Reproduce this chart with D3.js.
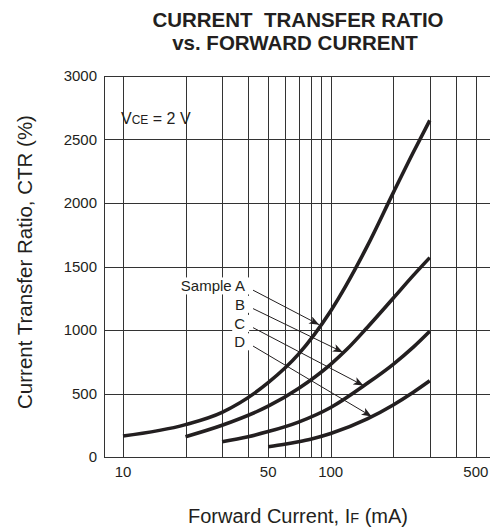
<!DOCTYPE html>
<html>
<head>
<meta charset="utf-8">
<script src="https://cdn.jsdelivr.net/npm/d3@7"></script>
<style>
  body { margin: 0; background: #fff; }
  text { font-family: "Liberation Sans", Arial, sans-serif; fill: #231f20; }
</style>
</head>
<body>
<div id="chart"></div>
<script>
// CTR (%) vs forward current IF (mA), four samples
const currentA = [10, 20, 30, 50, 70, 100, 150, 200, 250, 300];
const ctrA     = [165, 255, 352, 585, 810, 1150, 1660, 2080, 2400, 2650];
const currentB = [20, 30, 50, 70, 100, 120, 150, 200, 250, 300];
const ctrB     = [160, 250, 400, 540, 730, 850, 1020, 1250, 1430, 1570];
const currentC = [30, 40, 50, 70, 100, 150, 200, 250, 300];
const ctrC     = [120, 160, 200, 275, 390, 580, 730, 865, 990];
const currentD = [50, 60, 70, 80, 100, 150, 200, 250, 300];
const ctrD     = [80, 100, 120, 140, 185, 300, 410, 510, 600];

const yTicks = [0, 500, 1000, 1500, 2000, 2500, 3000];
const xGrid = [10, 20, 30, 40, 50, 60, 70, 80, 90, 100, 200, 300, 400, 500];
const xTickLabels = [10, 50, 100, 500];

// label text, label height (CTR), current where arrow hits the curve
const noteLabels = ['Sample A', 'B', 'C', 'D'];
const noteCtr = [1345, 1200, 1050, 905];
const noteTip = [90, 117, 147, 161];

const width = 490, height = 529;
const margin = {top: 76, right: 0, bottom: 72, left: 104};

const series = [
  {cur: currentA, ctr: ctrA},
  {cur: currentB, ctr: ctrB},
  {cur: currentC, ctr: ctrC},
  {cur: currentD, ctr: ctrD}
];

const svg = d3.select('#chart').append('svg')
  .attr('width', width)
  .attr('height', height);

svg.append('rect').attr('width', width).attr('height', height).attr('fill', '#fff');

const x = d3.scaleLog()
  .domain([8.1, 585])
  .range([margin.left, width - margin.right]);

const y = d3.scaleLinear()
  .domain([0, 3000])
  .range([height - margin.bottom, margin.top]);

const defs = svg.append('defs');
defs.append('marker')
  .attr('id', 'arrow')
  .attr('viewBox', '0 0 10 8')
  .attr('refX', 10)
  .attr('refY', 4)
  .attr('markerWidth', 11)
  .attr('markerHeight', 8)
  .attr('markerUnits', 'userSpaceOnUse')
  .attr('orient', 'auto')
  .append('path')
    .attr('d', 'M0,0 L10,4 L0,8 L2.5,4 Z')
    .attr('fill', '#231f20');

// grid
const grid = svg.append('g').attr('stroke', '#333').attr('stroke-width', 1).attr('shape-rendering', 'crispEdges');
grid.selectAll('.vgrid')
  .data(xGrid)
  .enter().append('line')
    .attr('class', 'vgrid')
    .attr('x1', d => Math.round(x(d)) + 0.5)
    .attr('x2', d => Math.round(x(d)) + 0.5)
    .attr('y1', y(3000))
    .attr('y2', y(0));
grid.selectAll('.hgrid')
  .data(yTicks)
  .enter().append('line')
    .attr('class', 'hgrid')
    .attr('x1', x.range()[0])
    .attr('x2', x.range()[1])
    .attr('y1', d => Math.round(y(d)) + 0.5)
    .attr('y2', d => Math.round(y(d)) + 0.5);
grid.append('line')
  .attr('x1', x.range()[0] + 0.5).attr('x2', x.range()[0] + 0.5)
  .attr('y1', y(3000)).attr('y2', y(0) + 0.5);

// y tick labels
svg.append('g').selectAll('text')
  .data(yTicks)
  .enter().append('text')
    .attr('x', margin.left - 7)
    .attr('y', d => y(d))
    .attr('dy', '0.35em')
    .attr('text-anchor', 'end')
    .attr('font-size', 15)
    .text(d => d);

// x tick labels
svg.append('g').selectAll('text')
  .data(xTickLabels)
  .enter().append('text')
    .attr('x', d => x(d))
    .attr('y', y(0) + 20)
    .attr('text-anchor', 'middle')
    .attr('font-size', 15)
    .text(d => d);

// curves
const line = d3.line()
  .x(d => x(d[0]))
  .y(d => y(d[1]))
  .curve(d3.curveMonotoneX);

svg.append('g').selectAll('path')
  .data(series)
  .enter().append('path')
    .attr('d', s => line(s.cur.map((c, i) => [c, s.ctr[i]])))
    .attr('fill', 'none')
    .attr('stroke', '#231f20')
    .attr('stroke-width', 3.6);

// value on a curve, linear in log current
function ctrAt(s, c) {
  const lc = s.cur.map(Math.log);
  const i = Math.max(1, Math.min(d3.bisectLeft(s.cur, c), s.cur.length - 1));
  const t = (Math.log(c) - lc[i - 1]) / (lc[i] - lc[i - 1]);
  return s.ctr[i - 1] + t * (s.ctr[i] - s.ctr[i - 1]);
}

// annotation labels with white backing
const notes = svg.append('g');
noteLabels.forEach((lab, i) => {
  const g = notes.append('g');
  const t = g.append('text')
    .attr('x', x(40) - 3)
    .attr('y', y(noteCtr[i]))
    .attr('dy', '0.35em')
    .attr('text-anchor', 'end')
    .attr('font-size', 15)
    .text(lab);
  const b = t.node().getBBox();
  g.insert('rect', 'text')
    .attr('x', b.x - 2).attr('y', b.y)
    .attr('width', b.width + 6).attr('height', b.height)
    .attr('fill', '#fff');
  const s = series[i];
  const tx = x(noteTip[i]), ty = y(ctrAt(s, noteTip[i]));
  notes.append('line')
    .attr('x1', x(40) + 5)
    .attr('y1', y(noteCtr[i]) + 4)
    .attr('x2', tx - 2)
    .attr('y2', ty + 1)
    .attr('stroke', '#231f20')
    .attr('stroke-width', 1)
    .attr('marker-end', 'url(#arrow)');
});

// VCE condition
const vce = svg.append('text')
  .attr('x', margin.left + 17)
  .attr('y', y(2620))
  .attr('font-size', 16);
vce.append('tspan').text('V');
vce.append('tspan').attr('font-size', 12).text('CE');
vce.append('tspan').text(' = 2 V');

// title
svg.append('text')
  .attr('x', 298).attr('y', 27)
  .attr('text-anchor', 'middle')
  .attr('font-size', 20.5).attr('font-weight', 'bold')
  .style('white-space', 'pre')
  .text('CURRENT  TRANSFER RATIO');
svg.append('text')
  .attr('x', 295).attr('y', 50)
  .attr('text-anchor', 'middle')
  .attr('font-size', 20.5).attr('font-weight', 'bold')
  .text('vs. FORWARD CURRENT');

// axis titles
svg.append('text')
  .attr('transform', 'translate(32,' + 262 + ') rotate(-90)')
  .attr('text-anchor', 'middle')
  .attr('font-size', 20.5)
  .text('Current Transfer Ratio, CTR (%)');

const xt = svg.append('text')
  .attr('x', 298).attr('y', 523)
  .attr('text-anchor', 'middle')
  .attr('font-size', 20);
xt.append('tspan').text('Forward Current, I');
xt.append('tspan').attr('font-size', 14.5).text('F');
xt.append('tspan').text(' (mA)');
</script>
</body>
</html>
